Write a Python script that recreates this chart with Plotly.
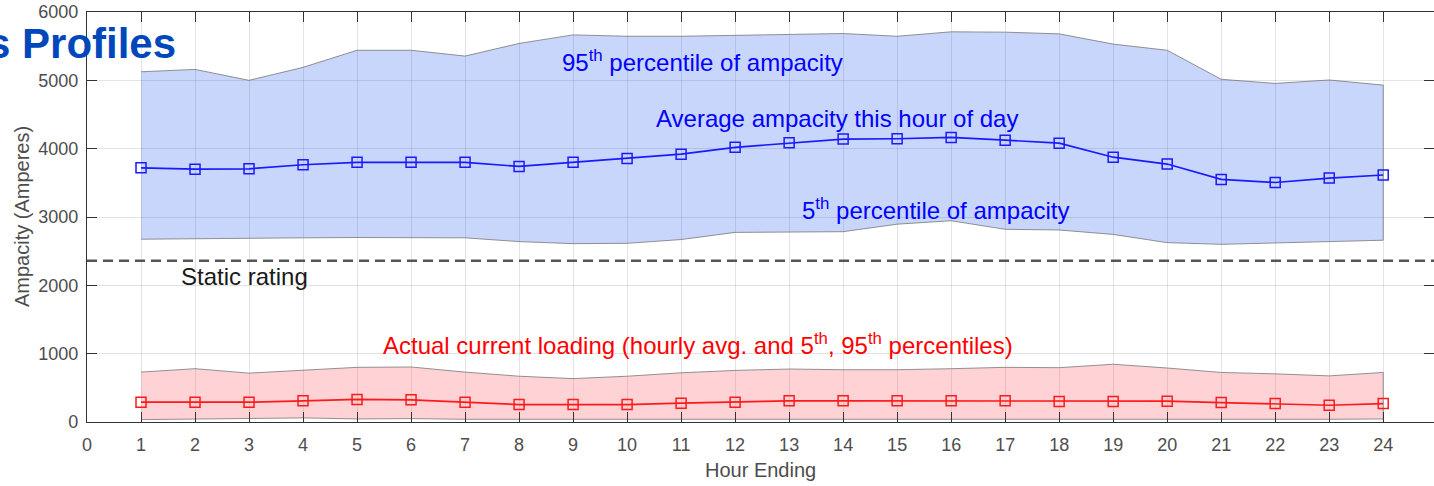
import plotly.graph_objects as go

hours = list(range(1, 25))
avg_amp = [3720, 3700, 3705, 3765, 3800, 3800, 3800, 3740, 3800, 3855, 3920, 4020,
           4085, 4140, 4145, 4165, 4125, 4080, 3875, 3775, 3550, 3505, 3570, 3615]
p95_amp = [5125, 5160, 5000, 5190, 5440, 5440, 5355, 5540, 5665, 5645, 5645, 5660,
           5670, 5685, 5645, 5710, 5705, 5680, 5530, 5440, 5015, 4955, 5005, 4930]
p5_amp = [2675, 2680, 2690, 2695, 2700, 2700, 2695, 2640, 2610, 2615, 2670, 2775,
          2775, 2785, 2895, 2945, 2820, 2810, 2745, 2625, 2600, 2620, 2640, 2660]
avg_load = [290, 290, 290, 310, 330, 325, 290, 255, 255, 255, 275, 290,
            310, 310, 310, 310, 310, 300, 300, 305, 285, 270, 245, 270]
p95_load = [730, 780, 715, 760, 800, 805, 730, 670, 635, 670, 720, 755,
            775, 765, 765, 780, 800, 795, 845, 790, 725, 705, 675, 725]
p5_load = [35, 45, 55, 60, 45, 50, 40, 35, 35, 40, 40, 40,
           40, 45, 45, 45, 45, 40, 40, 45, 45, 40, 40, 45]
static_rating = 2360
x_ticks = list(range(0, 25))
y_ticks = [0, 1000, 2000, 3000, 4000, 5000, 6000]

FONT = "Liberation Sans, Arial, sans-serif"
fig = go.Figure()

# bands
fig.add_trace(go.Scatter(
    x=hours + hours[::-1], y=p95_amp + p5_amp[::-1], fill="toself",
    fillcolor="rgba(40,90,240,0.25)", line=dict(color="rgba(120,120,120,0.8)", width=1),
    mode="lines", hoverinfo="skip", showlegend=False))
fig.add_trace(go.Scatter(
    x=hours + hours[::-1], y=p95_load + p5_load[::-1], fill="toself",
    fillcolor="rgba(255,80,90,0.25)", line=dict(color="rgba(120,120,120,0.8)", width=1),
    mode="lines", hoverinfo="skip", showlegend=False))

# static rating
fig.add_trace(go.Scatter(
    x=[0, 25], y=[static_rating, static_rating], mode="lines",
    line=dict(color="#555555", width=2.5, dash="10px,6px"), showlegend=False))

# averages
fig.add_trace(go.Scatter(
    x=hours, y=avg_amp, mode="lines+markers",
    line=dict(color="#1a1aff", width=1.7),
    marker=dict(symbol="square-open", size=10, color="#1a1aff", line=dict(width=1.5)),
    showlegend=False))
fig.add_trace(go.Scatter(
    x=hours, y=avg_load, mode="lines+markers",
    line=dict(color="#ff1a1a", width=1.7),
    marker=dict(symbol="square-open", size=10, color="#ff1a1a", line=dict(width=1.5)),
    showlegend=False))

axis_common = dict(
    showgrid=True, gridcolor="rgba(0,0,0,0.11)", gridwidth=1,
    showline=True, linecolor="#333333", linewidth=1.2, mirror="ticks",
    ticks="inside", ticklen=10, tickcolor="#333333", tickwidth=1.2,
    tickfont=dict(family=FONT, size=18, color="#4d4d4d"), zeroline=False,
)
fig.update_xaxes(range=[0, 24.94], tickmode="array", tickvals=x_ticks,
                 ticktext=[str(v) for v in x_ticks], ticklabelstandoff=6, **axis_common)
fig.update_yaxes(range=[0, 6000], tickmode="array", tickvals=y_ticks,
                 ticktext=[str(v) for v in y_ticks], ticklabelstandoff=4, **axis_common)

ann = []
def txt(x, y, s, color, size=24, **kw):
    ann.append(dict(x=x, y=y, text=s, showarrow=False, xanchor="left", yanchor="middle",
                    font=dict(family=FONT, size=size, color=color), **kw))

txt(8.76, 5290, "95<sup>th</sup> percentile of ampacity", "#0000ff")
txt(10.49, 4440, "Average ampacity this hour of day", "#0000ff")
txt(13.21, 3110, "5<sup>th</sup> percentile of ampacity", "#0000ff")
txt(1.70, 2130, "Static rating", "#1a1a1a")
txt(5.44, 1140, "Actual current loading (hourly avg. and 5<sup>th</sup>, 95<sup>th</sup> percentiles)", "#ff0000")

# axis titles
ann.append(dict(xref="paper", yref="paper", x=0.5, y=0, yshift=-48, text="Hour Ending",
                showarrow=False, xanchor="center", yanchor="middle",
                font=dict(family=FONT, size=20, color="#4d4d4d")))
ann.append(dict(xref="paper", yref="paper", x=0, y=0.5, xshift=-65, text="Ampacity (Amperes)",
                showarrow=False, xanchor="center", yanchor="middle", textangle=-90,
                font=dict(family=FONT, size=20, color="#4d4d4d")))
# cut-off slide title (cut at the left edge, as in the reference)
ann.append(dict(xref="paper", yref="paper", x=(178 - 87) / 1347, y=0.924, text="<b>s Profiles</b>",
                showarrow=False, xanchor="right", yanchor="middle",
                font=dict(family=FONT, size=42, color="#0047bb")))

fig.update_layout(
    width=1434, height=486, margin=dict(l=87, r=0, t=12, b=64),
    paper_bgcolor="white", plot_bgcolor="white", annotations=ann,
    font=dict(family=FONT),
)
fig.write_html("out.html")
